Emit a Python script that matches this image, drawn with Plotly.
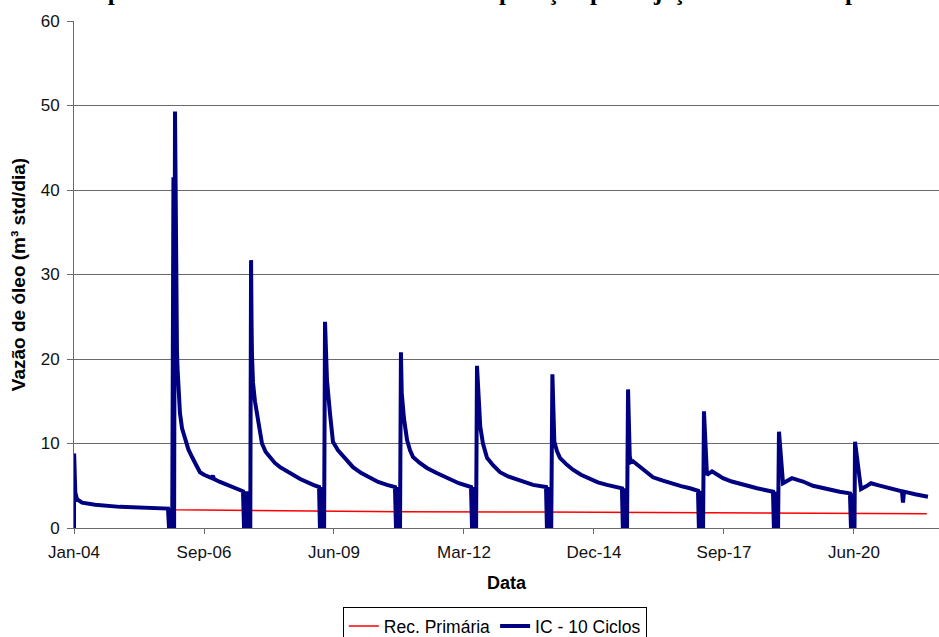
import pandas as pd
import plotly.graph_objects as go

START_DATE = "2004-01-01"

# Simulation time (days since start) and oil rate (m3 std/dia)
PRIMARY_DAYS = [0, 1, 10, 23, 62, 162, 354, 585, 723, 777, 1350, 2500, 3600, 4800, 6000, 6560]
PRIMARY_RATE = [0, 8.8, 4.2, 3.4, 3.0, 2.75, 2.5, 2.38, 2.25, 2.15, 2.05, 1.93, 1.88, 1.8, 1.74, 1.7]

IC_DAYS = [
    0, 1, 10, 23, 62, 162, 354, 585, 723,
    731, 740, 748, 756, 765, 770, 777,
    781, 785, 789, 792, 796, 800, 808, 815, 831, 854, 880, 908, 938, 969, 1000, 1030, 1060, 1068, 1077, 1123, 1177, 1238, 1300,
    1308, 1317, 1325, 1334, 1342, 1350, 1356, 1362,
    1366, 1369, 1373, 1377, 1392, 1408, 1425, 1446, 1475, 1508, 1545, 1585, 1635, 1685, 1740, 1792, 1840, 1885,
    1892, 1900, 1908, 1916, 1924, 1931,
    1938, 1946, 1969, 1992, 2031, 2085, 2146, 2210, 2277, 2340, 2408, 2469,
    2477, 2485, 2493, 2501, 2508, 2515,
    2521, 2538, 2562, 2585, 2608, 2660, 2715, 2790, 2869, 2960, 3054,
    3062, 3070, 3078, 3086, 3093, 3100,
    3110, 3125, 3146, 3177, 3225, 3277, 3340, 3408, 3470, 3531, 3631,
    3638, 3646, 3654, 3662, 3671, 3680,
    3688, 3695, 3715, 3738, 3790, 3838, 3900, 3969, 4030, 4100, 4160, 4215,
    4222, 4230, 4238, 4246, 4254, 4262,
    4275, 4285, 4300, 4331, 4354, 4400, 4454, 4530, 4608, 4670, 4738, 4800,
    4807, 4815, 4823, 4831, 4839, 4846,
    4869, 4885, 4908, 4950, 4992, 5060, 5123, 5190, 5254, 5315, 5377,
    5384, 5392, 5400, 5408, 5416, 5423,
    5454, 5485, 5523, 5565, 5608, 5684, 5750, 5815, 5890, 5969,
    5977, 5985, 5992, 6000, 6004, 6008,
    6054, 6090, 6131, 6190, 6254, 6300, 6354, 6369, 6377, 6385, 6470, 6569,
]
IC_RATE = [
    0, 8.8, 4.2, 3.4, 3.0, 2.75, 2.5, 2.38, 2.3,
    0, 2.3, 0, 2.3, 41.5, 0, 49.3,
    38, 30, 24, 21, 19, 17.5, 15.2, 13.6, 11.8, 10.4, 9.3, 8.4, 7.4, 6.6, 6.3, 6.05, 5.9, 6.2, 5.8, 5.45, 5.1, 4.7, 4.35,
    0, 4.35, 0, 4.35, 0, 4.35, 0, 31.7,
    24, 20.5, 18.5, 17.2, 15.0, 13.4, 11.6, 10.0, 9.0, 8.3, 7.7, 7.2, 6.7, 6.3, 5.8, 5.4, 5.1, 4.85,
    0, 4.85, 0, 4.85, 0, 24.4,
    20, 17.5, 13.6, 10.2, 9.2, 8.2, 7.2, 6.5, 5.9, 5.45, 5.1, 4.85,
    0, 4.85, 0, 4.85, 0, 20.8,
    16.0, 13.0, 10.4, 9.2, 8.4, 7.7, 7.1, 6.5, 5.9, 5.3, 4.85,
    0, 4.85, 0, 4.85, 0, 19.2,
    15.5, 12.0, 10.0, 8.3, 7.4, 6.6, 6.1, 5.7, 5.4, 5.1, 4.85,
    0, 4.85, 0, 4.85, 0, 18.2,
    12.0, 10.2, 9.1, 8.3, 7.5, 6.9, 6.3, 5.8, 5.4, 5.1, 4.9, 4.7,
    0, 4.7, 0, 4.7, 0, 16.4,
    8.5, 7.8, 7.9, 7.5, 7.2, 6.6, 6.0, 5.6, 5.2, 4.95, 4.7, 4.4,
    0, 4.4, 0, 4.4, 0, 13.8,
    6.3, 6.5, 6.7, 6.3, 5.9, 5.5, 5.2, 4.95, 4.7, 4.5, 4.3,
    0, 4.3, 0, 4.3, 0, 11.4,
    5.3, 5.6, 5.9, 5.7, 5.5, 5.0, 4.75, 4.5, 4.3, 4.1,
    0, 4.1, 0, 4.1, 0, 10.2,
    4.6, 4.9, 5.3, 5.05, 4.8, 4.6, 4.4, 4.35, 3.0, 4.3, 4.0, 3.7,
]

TICK_DAYS = [0, 1000, 2000, 3000, 4000, 5000, 6000]
TICK_LABELS = ["Jan-04", "Sep-06", "Jun-09", "Mar-12", "Dec-14", "Sep-17", "Jun-20"]
X_END_DAYS = 6654

start = pd.Timestamp(START_DATE)
to_dates = lambda days: start + pd.to_timedelta(days, unit="D")

FONT = "Liberation Sans, Arial, sans-serif"
GRID = "#6a6a6a"

fig = go.Figure()
fig.add_trace(go.Scatter(
    x=to_dates(PRIMARY_DAYS), y=PRIMARY_RATE, mode="lines", name="Rec. Primária",
    line=dict(color="#ff0000", width=1.5),
))
fig.add_trace(go.Scatter(
    x=to_dates(IC_DAYS), y=IC_RATE, mode="lines", name="IC - 10 Ciclos",
    line=dict(color="#000080", width=4),
))

fig.update_layout(
    width=939, height=637,
    margin=dict(l=74, r=0, t=21, b=109, autoexpand=False),
    paper_bgcolor="white", plot_bgcolor="white",
    font=dict(family=FONT, size=17, color="#111111"),
    title=dict(
        text="<b>Comportamento da vazão de óleo na recuperação por injeção cíclica de vapor</b>",
        font=dict(family="Liberation Serif, Times New Roman, serif", size=25, color="black"),
        xref="container", x=0.5, xanchor="center",
        yref="container", y=1.0, yanchor="bottom",
    ),
    showlegend=True,
    legend=dict(
        orientation="h", xref="container", x=0.527, xanchor="center",
        yref="container", y=1 - 607 / 637, yanchor="top",
        bordercolor="black", borderwidth=1, bgcolor="white",
        font=dict(family=FONT, size=17.5, color="black"),
        itemwidth=30,
    ),
)

fig.update_xaxes(
    type="date", automargin=False,
    range=[to_dates([0])[0], to_dates([X_END_DAYS])[0]],
    tickvals=to_dates(TICK_DAYS), ticktext=TICK_LABELS,
    showgrid=False, zeroline=False,
    showline=True, linecolor=GRID, linewidth=1,
    ticks="outside", ticklen=5, tickcolor=GRID, ticklabelstandoff=4,
    tickfont=dict(family=FONT, size=17, color="#111111"),
    title=dict(text="<b>Data</b>", font=dict(family=FONT, size=18, color="black"), standoff=14),
)
fig.update_yaxes(
    automargin=False,
    range=[0, 60], dtick=10,
    showgrid=True, gridcolor=GRID, gridwidth=1, zeroline=False,
    showline=True, linecolor=GRID, linewidth=1,
    ticks="outside", ticklen=6, tickcolor=GRID, ticklabelstandoff=4,
    tickfont=dict(family=FONT, size=17, color="#111111"),
    title=dict(text="<b>Vazão de óleo (m³ std/dia)</b>", font=dict(family=FONT, size=19, color="black"), standoff=10),
)

fig.write_html(
    "out.html",
    config={"displayModeBar": False},
    post_script="document.body.style.margin='0';",
)
